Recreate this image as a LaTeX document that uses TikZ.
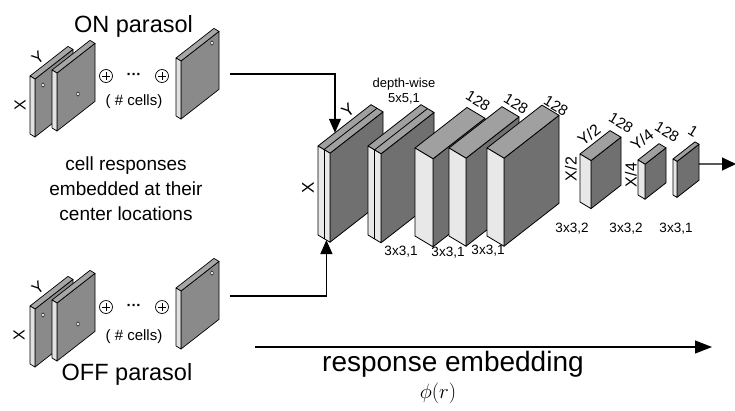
\documentclass[tikz,border=0pt]{standalone}
\usepackage[no-math]{fontspec}
\setmainfont{Liberation Sans}
\usetikzlibrary{calc,arrows.meta}
\definecolor{sfront}{HTML}{E2E2E2}
\definecolor{stopc}{HTML}{A6A6A6}
\definecolor{sside}{HTML}{8A8A8A}
\definecolor{bfront}{HTML}{E8E8E8}
\definecolor{btopc}{HTML}{A0A0A0}
\definecolor{bside}{HTML}{707070}
\newcommand{\fs}[1]{\fontsize{#1pt}{#1pt}\selectfont}
% name, x, y, height, width(channels), depth, style prefix
\newcommand{\cub}[7]{%
  \pgfmathsetmacro\cwy{0.6*#5}%
  \pgfmathsetmacro\ddy{-0.78*#6}%
  \coordinate (#1-a) at (#2,#3);
  \coordinate (#1-b) at ($(#1-a)+(#5,\cwy)$);
  \coordinate (#1-d) at ($(#1-a)+(#6,\ddy)$);
  \coordinate (#1-c) at ($(#1-b)+(#6,\ddy)$);
  \coordinate (#1-e) at ($(#1-a)+(0,#4)$);
  \coordinate (#1-f) at ($(#1-b)+(0,#4)$);
  \coordinate (#1-g) at ($(#1-c)+(0,#4)$);
  \draw[#7side] (#1-b) -- (#1-c) -- (#1-g) -- (#1-f) -- cycle;
  \draw[#7top] (#1-a) -- (#1-b) -- (#1-c) -- (#1-d) -- cycle;
  \draw[#7front] (#1-a) -- (#1-b) -- (#1-f) -- (#1-e) -- cycle;
}
\begin{document}
\begin{tikzpicture}[x=1pt,y=-1pt,
  slicefront/.style={fill=sfront,draw=black,line width=0.7pt,line join=round},
  slicetop/.style={fill=stopc,draw=black,line width=0.7pt,line join=round},
  sliceside/.style={fill=sside,draw=black,line width=0.7pt,line join=round},
  blkfront/.style={fill=bfront,draw=black,line width=0.8pt,line join=round},
  blktop/.style={fill=btopc,draw=black,line width=0.8pt,line join=round},
  blkside/.style={fill=bside,draw=black,line width=0.8pt,line join=round},
  stripline/.style={draw=black,line width=0.8pt},
  lbl/.style={inner sep=0pt,font=\fs{16}},
  small/.style={inner sep=0pt,font=\fs{13.5}},
  conn/.style={line width=1.2pt,-{Triangle[length=14pt,width=12pt]}},
  oplus/.style={circle,draw,line width=0.7pt,minimum size=13pt,inner sep=0pt},
  celldot/.style={fill=white,draw=black,line width=0.5pt}]
\useasboundingbox (0,0) rectangle (735,410);

% ---------- ON parasol ----------
\node[inner sep=0pt,font=\fs{23.5},anchor=base] (ontitle) at (133.5,32) {ON parasol};
\cub{on1}{30}{76}{58}{5}{38}{slice}
\cub{on2}{52}{70}{58}{5}{38}{slice}
\cub{on3}{176}{58}{58}{5}{38}{slice}
\draw[celldot] (43,85) ellipse (1.3pt and 2.1pt);
\draw[celldot] (78,94) ellipse (1.3pt and 2.1pt);
\draw[celldot] (212,43) ellipse (1.3pt and 2.1pt);
\node[lbl,rotate=38] (ony) at (38,58) {Y};
\node[lbl,rotate=90] (onx) at (20,105) {X};
\node[oplus] (onp1) at (106,76) {};
\node[oplus] (onp2) at (162,76) {};
\foreach \p in {onp1,onp2}{
  \draw[line width=0.7pt] ([xshift=3pt]\p.west) -- ([xshift=-3pt]\p.east);
  \draw[line width=0.7pt] ([yshift=-3pt]\p.north) -- ([yshift=3pt]\p.south);
}
\node[inner sep=0pt,font=\fs{15}\bfseries] (ondots) at (134,76) {···};
\node[inner sep=0pt,font=\fs{15},anchor=base] (oncells) at (134,105) {( \# cells)};

% ---------- middle text ----------
\node[inner sep=0pt,font=\fs{19},anchor=base] (t1) at (126,170) {cell responses};
\node[inner sep=0pt,font=\fs{19},anchor=base] (t2) at (126,195) {embedded at their};
\node[inner sep=0pt,font=\fs{19},anchor=base] (t3) at (126,220) {center locations};

% ---------- OFF parasol ----------
\cub{off1}{30}{306}{58}{5}{38}{slice}
\cub{off2}{52}{300}{58}{5}{38}{slice}
\cub{off3}{176}{288}{58}{5}{38}{slice}
\draw[celldot] (43,315) ellipse (1.3pt and 2.1pt);
\draw[celldot] (78,324) ellipse (1.3pt and 2.1pt);
\draw[celldot] (212,273) ellipse (1.3pt and 2.1pt);
\node[lbl,rotate=38] (offy) at (38,288) {Y};
\node[lbl,rotate=90] (offx) at (19,335) {X};
\node[oplus] (offp1) at (106,307) {};
\node[oplus] (offp2) at (162,307) {};
\foreach \p in {offp1,offp2}{
  \draw[line width=0.7pt] ([xshift=3pt]\p.west) -- ([xshift=-3pt]\p.east);
  \draw[line width=0.7pt] ([yshift=-3pt]\p.north) -- ([yshift=3pt]\p.south);
}
\node[inner sep=0pt,font=\fs{15}\bfseries] (offdots) at (134,307) {···};
\node[inner sep=0pt,font=\fs{15},anchor=base] (offcells) at (134,340) {( \# cells)};
\node[inner sep=0pt,font=\fs{23.5},anchor=base] (offtitle) at (127,380) {OFF parasol};

% ---------- network ----------
\cub{b1}{318}{146}{89}{12}{53}{blk}
\draw[stripline] ($(b1-a)!0.5!(b1-b)$) -- ($(b1-e)!0.5!(b1-f)$);
\draw[stripline] ($(b1-a)!0.5!(b1-b)$) -- ($(b1-d)!0.5!(b1-c)$);
\cub{b2}{368}{146}{89}{13}{53}{blk}
\draw[stripline] ($(b2-a)!0.5!(b2-b)$) -- ($(b2-e)!0.5!(b2-f)$);
\draw[stripline] ($(b2-a)!0.5!(b2-b)$) -- ($(b2-d)!0.5!(b2-c)$);
\cub{b3}{415}{148}{88}{18}{52}{blk}
\cub{b4}{449}{148}{88}{17}{53}{blk}
\cub{b5}{487}{148}{88}{17}{55}{blk}
\cub{b6}{580}{154}{48}{11}{30}{blk}
\cub{b7}{638}{160}{35}{7}{21}{blk}
\cub{b8}{673}{159}{36}{4}{22}{blk}

\node[lbl,font=\fs{17},rotate=90] (b1x) at (308,188) {X};
\node[lbl,font=\fs{17},rotate=38] (b1y) at (348,110) {Y};
\node[small,font=\fs{13}] (dw1) at (404,84) {depth-wise};
\node[small,font=\fs{13}] (dw2) at (404,99) {5x5,1};
\node[small] (k2) at (401,252) {3x3,1};
\node[small] (k3) at (448,253) {3x3,1};
\node[small] (k4) at (488,251) {3x3,1};
\node[lbl,font=\fs{15},rotate=-31] (c3) at (478,101) {128};
\node[lbl,font=\fs{15},rotate=-31] (c4) at (516,104) {128};
\node[lbl,font=\fs{15},rotate=-31] (c5) at (556,106) {128};
\node[lbl,font=\fs{16},rotate=90] (b6x) at (571,169) {X/2};
\node[lbl,font=\fs{16},rotate=38] (b6y) at (589,135) {Y/2};
\node[lbl,font=\fs{15},rotate=-31] (c6) at (621,123) {128};
\node[lbl,font=\fs{16},rotate=90] (b7x) at (631,175) {X/4};
\node[lbl,font=\fs{16},rotate=38] (b7y) at (642,140) {Y/4};
\node[lbl,font=\fs{15},rotate=-31] (c7) at (667,132) {128};
\node[lbl,font=\fs{15},rotate=-31] (c8) at (693,131) {1};
\node[small] (k6) at (572,229) {3x3,2};
\node[small] (k7) at (626,229) {3x3,2};
\node[small] (k8) at (676,229) {3x3,1};

% ---------- connectors ----------
\coordinate (onout) at (230,74);
\coordinate (offout) at (230,296);
\coordinate (b1top) at ($(b1-a)!0.32!(b1-d)$);
\coordinate (b1bot) at ($(b1-e)!0.7!(b1-f)$);
\draw[conn] (onout) -| (b1top);
\draw[conn] (offout) -| (b1bot);
\coordinate (b8out) at ($(b8-c)!0.55!(b8-g)$);
\coordinate (netout) at (736,164);
\draw[conn,-{Triangle[length=14pt,width=13pt]}] (b8out) -- (netout);

% ---------- embedding arrow ----------
\coordinate (embA) at (255,347);
\coordinate (embB) at (712,347);
\draw[conn,-{Triangle[length=17pt,width=13pt]}] (embA) -- (embB);
\node[inner sep=0pt,font=\fs{28},anchor=base west] (emb) at (322,371) {response embedding};
\node[inner sep=0pt,font=\fs{21}] (phi) at (438,393) {$\phi(r)$};
\end{tikzpicture}
\end{document}
